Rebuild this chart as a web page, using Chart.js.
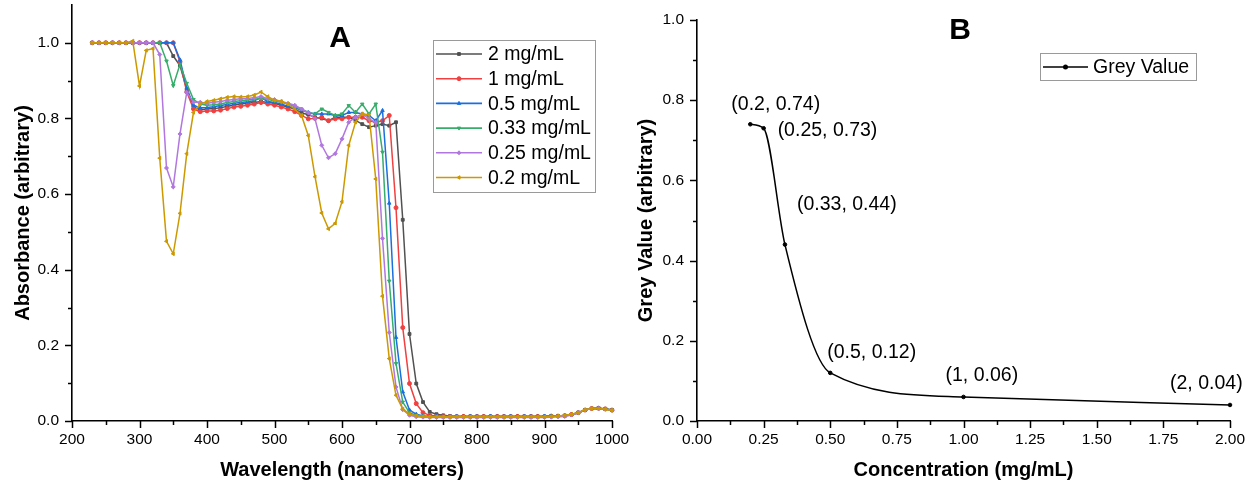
<!DOCTYPE html>
<html>
<head>
<meta charset="utf-8">
<title>Absorbance spectra and grey value</title>
<script src="https://cdn.jsdelivr.net/npm/chart.js@4.4.1/dist/chart.umd.min.js"></script>
<style>
  html, body { margin: 0; padding: 0; background: #fff; overflow: hidden; }
  body { width: 1250px; height: 483px; position: relative; }
  canvas { position: absolute; top: 0; }
  #chartA { left: 0; }
  #chartB { left: 630px; }
</style>
</head>
<body>
<canvas id="chartA" width="640" height="483"></canvas>
<canvas id="chartB" width="620" height="483"></canvas>
<script>
// ---- panel A: absorbance scans, 230-1000 nm in 10 nm steps ----
var wavelengths = [
  230, 240, 250, 260, 270, 280, 290, 300, 310, 320,
  330, 340, 350, 360, 370, 380, 390, 400, 410, 420,
  430, 440, 450, 460, 470, 480, 490, 500, 510, 520,
  530, 540, 550, 560, 570, 580, 590, 600, 610, 620,
  630, 640, 650, 660, 670, 680, 690, 700, 710, 720,
  730, 740, 750, 760, 770, 780, 790, 800, 810, 820,
  830, 840, 850, 860, 870, 880, 890, 900, 910, 920,
  930, 940, 950, 960, 970, 980, 990, 1000
];

var abs2 = [
  1.0, 1.0, 1.0, 1.0, 1.0, 1.0, 1.0, 1.0, 1.0, 1.0,
  1.0, 1.0, 0.965, 0.94, 0.877, 0.83, 0.823, 0.825, 0.826, 0.828,
  0.832, 0.835, 0.838, 0.84, 0.842, 0.845, 0.842, 0.84, 0.835, 0.83,
  0.825, 0.815, 0.81, 0.803, 0.8, 0.794, 0.803, 0.803, 0.803, 0.795,
  0.785, 0.777, 0.781, 0.785, 0.781, 0.79, 0.532, 0.23, 0.099, 0.05,
  0.024, 0.018, 0.015, 0.013, 0.012, 0.012, 0.012, 0.012, 0.012, 0.012,
  0.012, 0.012, 0.012, 0.012, 0.012, 0.012, 0.012, 0.012, 0.013, 0.013,
  0.014, 0.017, 0.022, 0.029, 0.033, 0.034, 0.032, 0.029
];
var abs1 = [
  1.0, 1.0, 1.0, 1.0, 1.0, 1.0, 1.0, 1.0, 1.0, 1.0,
  1.0, 1.0, 1.0, 0.95, 0.87, 0.825, 0.818, 0.82, 0.82, 0.822,
  0.826, 0.83, 0.832, 0.835, 0.838, 0.842, 0.838, 0.835, 0.83, 0.825,
  0.818, 0.808, 0.799, 0.8, 0.803, 0.794, 0.799, 0.799, 0.803, 0.803,
  0.803, 0.794, 0.79, 0.794, 0.808, 0.564, 0.247, 0.099, 0.046, 0.022,
  0.015, 0.013, 0.012, 0.012, 0.012, 0.012, 0.012, 0.012, 0.012, 0.012,
  0.012, 0.012, 0.012, 0.012, 0.012, 0.012, 0.012, 0.012, 0.013, 0.013,
  0.014, 0.017, 0.022, 0.029, 0.033, 0.034, 0.032, 0.029
];
var abs05 = [
  1.0, 1.0, 1.0, 1.0, 1.0, 1.0, 1.0, 1.0, 1.0, 1.0,
  1.0, 1.0, 1.0, 0.955, 0.88, 0.835, 0.828, 0.829, 0.831, 0.834,
  0.837, 0.84, 0.842, 0.844, 0.847, 0.855, 0.845, 0.842, 0.838, 0.832,
  0.828, 0.822, 0.816, 0.812, 0.812, 0.812, 0.808, 0.808, 0.816, 0.816,
  0.812, 0.808, 0.794, 0.821, 0.576, 0.221, 0.077, 0.029, 0.018, 0.013,
  0.012, 0.012, 0.012, 0.012, 0.012, 0.012, 0.012, 0.012, 0.012, 0.012,
  0.012, 0.012, 0.012, 0.012, 0.012, 0.012, 0.012, 0.012, 0.013, 0.013,
  0.014, 0.017, 0.022, 0.029, 0.033, 0.034, 0.032, 0.029
];
var abs033 = [
  1.0, 1.0, 1.0, 1.0, 1.0, 1.0, 1.0, 1.0, 1.0, 1.0,
  1.0, 0.952, 0.887, 0.943, 0.893, 0.85, 0.838, 0.835, 0.836, 0.838,
  0.842, 0.845, 0.847, 0.849, 0.851, 0.853, 0.85, 0.847, 0.843, 0.838,
  0.832, 0.825, 0.816, 0.812, 0.825, 0.816, 0.808, 0.812, 0.834, 0.816,
  0.838, 0.812, 0.838, 0.711, 0.37, 0.152, 0.05, 0.022, 0.015, 0.013,
  0.012, 0.012, 0.012, 0.012, 0.012, 0.012, 0.012, 0.012, 0.012, 0.012,
  0.012, 0.012, 0.012, 0.012, 0.012, 0.012, 0.012, 0.012, 0.013, 0.013,
  0.014, 0.017, 0.022, 0.029, 0.033, 0.034, 0.032, 0.029
];
var abs025 = [
  1.0, 1.0, 1.0, 1.0, 1.0, 1.0, 1.0, 1.0, 1.0, 1.0,
  0.969, 0.669, 0.619, 0.759, 0.869, 0.843, 0.843, 0.84, 0.843, 0.845,
  0.848, 0.85, 0.852, 0.853, 0.855, 0.858, 0.852, 0.85, 0.845, 0.84,
  0.835, 0.825, 0.815, 0.799, 0.729, 0.696, 0.707, 0.746, 0.79, 0.803,
  0.812, 0.799, 0.79, 0.483, 0.234, 0.09, 0.03, 0.015, 0.011, 0.01,
  0.009, 0.009, 0.009, 0.009, 0.009, 0.009, 0.009, 0.009, 0.009, 0.009,
  0.009, 0.009, 0.009, 0.009, 0.009, 0.009, 0.009, 0.009, 0.01, 0.011,
  0.012, 0.016, 0.022, 0.029, 0.033, 0.033, 0.031, 0.028
];
var abs02 = [
  1.0, 1.0, 1.0, 1.0, 1.0, 1.0, 1.005, 0.886, 0.98, 0.985,
  0.695, 0.475, 0.442, 0.549, 0.707, 0.816, 0.838, 0.845, 0.848, 0.852,
  0.856, 0.858, 0.857, 0.858, 0.862, 0.87, 0.858, 0.848, 0.845, 0.838,
  0.825, 0.808, 0.755, 0.646, 0.55, 0.508, 0.523, 0.58, 0.729, 0.79,
  0.812, 0.81, 0.64, 0.33, 0.165, 0.068, 0.032, 0.018, 0.014, 0.012,
  0.011, 0.011, 0.011, 0.011, 0.011, 0.011, 0.011, 0.011, 0.011, 0.011,
  0.011, 0.011, 0.011, 0.011, 0.011, 0.011, 0.011, 0.011, 0.012, 0.013,
  0.015, 0.018, 0.022, 0.03, 0.033, 0.033, 0.031, 0.028
];

var seriesNames = ['2 mg/mL', '1 mg/mL', '0.5 mg/mL', '0.33 mg/mL', '0.25 mg/mL', '0.2 mg/mL'];
var waveTicks = [200, 300, 400, 500, 600, 700, 800, 900, 1000];
var absTicks = [0, 0.2, 0.4, 0.6, 0.8, 1.0];

// ---- panel B: grey value against concentration ----
var concentrations = [0.2, 0.25, 0.33, 0.5, 1, 2];
var greyValues = [0.74, 0.73, 0.44, 0.12, 0.06, 0.04];
var concTicks = [0, 0.25, 0.5, 0.75, 1, 1.25, 1.5, 1.75, 2];
var greyTicks = [0, 0.2, 0.4, 0.6, 0.8, 1.0];

var FONT = '"Liberation Sans", Arial, Helvetica, sans-serif';
Chart.defaults.font.family = FONT;
Chart.defaults.color = '#000';

var colors = ['#515151', '#F14040', '#1A6FDF', '#37AD6B', '#B177DE', '#CC9900'];
var symbols = [
  { style: 'rect', rot: 0 },
  { style: 'circle', rot: 0 },
  { style: 'triangle', rot: 0 },
  { style: 'triangle', rot: 180 },
  { style: 'rectRot', rot: 0 },
  { style: 'triangle', rot: -90 }
];

function pairUp(xs, ys) {
  return xs.map(function (x, i) { return { x: x, y: ys[i] }; });
}

function midpoints(list) {
  var out = [];
  for (var i = 0; i < list.length - 1; i++) out.push((list[i] + list[i + 1]) / 2);
  return out;
}

// outward major/minor tick marks in the Origin style
var tickMarks = {
  id: 'tickMarks',
  afterDraw: function (chart, args, opts) {
    var ctx = chart.ctx;
    var xs = chart.scales.x, ys = chart.scales.y;
    ctx.save();
    ctx.strokeStyle = '#000';
    ctx.lineWidth = 1.5;
    [[opts.xMajor, 7], [midpoints(opts.xMajor), 4]].forEach(function (set) {
      set[0].forEach(function (v) {
        var p = Math.round(xs.getPixelForValue(v)) + 0.5;
        ctx.beginPath();
        ctx.moveTo(p, xs.top);
        ctx.lineTo(p, xs.top + set[1]);
        ctx.stroke();
      });
    });
    [[opts.yMajor, 7], [midpoints(opts.yMajor), 4]].forEach(function (set) {
      set[0].forEach(function (v) {
        var p = Math.round(ys.getPixelForValue(v)) + 0.5;
        ctx.beginPath();
        ctx.moveTo(ys.right, p);
        ctx.lineTo(ys.right - set[1], p);
        ctx.stroke();
      });
    });
    ctx.restore();
  }
};

function markerOpts(ds, r) {
  return { pointStyle: ds.pointStyle, rotation: ds.rotation || 0, radius: r, borderWidth: 1 };
}

// legend box and panel letter for the spectra
var legendA = {
  id: 'legendA',
  afterDraw: function (chart) {
    var ctx = chart.ctx;
    ctx.save();
    ctx.fillStyle = '#fff';
    ctx.fillRect(433, 40, 163, 152);
    ctx.strokeStyle = '#9a9a9a';
    ctx.lineWidth = 1;
    ctx.strokeRect(433.5, 40.5, 162, 152);
    ctx.font = '19.5px ' + FONT;
    ctx.textBaseline = 'middle';
    ctx.textAlign = 'left';
    chart.data.datasets.forEach(function (ds, i) {
      var y = 54 + i * 24.7;
      ctx.strokeStyle = ds.borderColor;
      ctx.fillStyle = ds.borderColor;
      ctx.lineWidth = 1.6;
      ctx.beginPath();
      ctx.moveTo(436, y);
      ctx.lineTo(482, y);
      ctx.stroke();
      ctx.lineWidth = 1;
      Chart.helpers.drawPoint(ctx, markerOpts(ds, 2), 459, y);
      ctx.fillStyle = '#000';
      ctx.fillText(ds.label, 488, y + 1);
    });
    ctx.font = 'bold 30px ' + FONT;
    ctx.textAlign = 'center';
    ctx.fillText('A', 340, 39);
    ctx.restore();
  }
};

// text offsets (left edge, vertical centre) of each point label, in px from its marker
var labelOffsets = [[-19, -20], [14, 2], [12, -40], [-3, -20], [-18, -21], [-60, -21]];

var legendB = {
  id: 'legendB',
  afterDraw: function (chart) {
    var ctx = chart.ctx;
    var xs = chart.scales.x, ys = chart.scales.y;
    ctx.save();
    ctx.font = '19.5px ' + FONT;
    ctx.textBaseline = 'middle';
    ctx.textAlign = 'left';
    ctx.fillStyle = '#000';
    concentrations.forEach(function (c, i) {
      var px = xs.getPixelForValue(c), py = ys.getPixelForValue(greyValues[i]);
      var text = '(' + c + ', ' + greyValues[i].toFixed(2) + ')';
      ctx.fillText(text, px + labelOffsets[i][0], py + labelOffsets[i][1]);
    });

    ctx.strokeStyle = '#9a9a9a';
    ctx.lineWidth = 1;
    ctx.strokeRect(410.5, 53.5, 156, 27);
    var ds = chart.data.datasets[0];
    ctx.strokeStyle = '#000';
    ctx.lineWidth = 1.4;
    ctx.beginPath();
    ctx.moveTo(413, 67);
    ctx.lineTo(458, 67);
    ctx.stroke();
    ctx.fillStyle = '#000';
    Chart.helpers.drawPoint(ctx, markerOpts(ds, 1.8), 435.5, 67);
    ctx.fillText(ds.label, 463, 67.5);

    ctx.font = 'bold 30px ' + FONT;
    ctx.textAlign = 'center';
    ctx.fillText('B', 330, 31);
    ctx.restore();
  }
};

function axisOpts(min, max, ticks, fmt, title, titlePad, side) {
  return {
    type: 'linear',
    min: min,
    max: max,
    grid: { display: false, drawTicks: false },
    border: { display: true, color: '#000', width: 1.6 },
    ticks: {
      color: '#000',
      font: { size: 15.5 },
      padding: side === 'x' ? 9 : 13,
      maxRotation: 0,
      callback: fmt
    },
    title: {
      display: true,
      text: title,
      color: '#000',
      font: { size: 20, weight: 'bold' },
      padding: titlePad
    },
    afterBuildTicks: function (scale) {
      scale.ticks = ticks.map(function (v) { return { value: v }; });
    }
  };
}

// ---- chart A ----
var datasetsA = [abs2, abs1, abs05, abs033, abs025, abs02].map(function (vals, i) {
  return {
    label: seriesNames[i],
    data: pairUp(wavelengths, vals),
    borderColor: colors[i],
    backgroundColor: colors[i],
    borderWidth: 1.5,
    pointStyle: symbols[i].style,
    rotation: symbols[i].rot,
    pointRadius: 2,
    pointBorderWidth: 1,
    tension: 0,
    fill: false,
    clip: false,
    order: 6 - i
  };
});

var xA = axisOpts(200, 1000, waveTicks, function (v) { return String(v); },
  'Wavelength (nanometers)', { top: 0, bottom: 1 }, 'x');
xA.afterFit = function (scale) { scale.height = 62; scale.paddingLeft = 0; scale.paddingRight = 0; };
var yA = axisOpts(0, 1.1, absTicks, function (v) { return v.toFixed(1); },
  'Absorbance (arbitrary)', { top: 11, bottom: 0 }, 'y');
yA.afterFit = function (scale) { scale.width = 72; scale.paddingTop = 0; scale.paddingBottom = 0; };

new Chart(document.getElementById('chartA'), {
  type: 'line',
  data: { datasets: datasetsA },
  options: {
    responsive: false,
    animation: false,
    devicePixelRatio: 1,
    events: [],
    layout: { padding: { left: 0, right: 28, top: 2, bottom: 0 } },
    scales: { x: xA, y: yA },
    plugins: {
      legend: { display: false },
      tooltip: { enabled: false },
      tickMarks: { xMajor: waveTicks, yMajor: absTicks }
    }
  },
  plugins: [tickMarks, legendA]
});

// ---- chart B ----
var xB = axisOpts(0, 2, concTicks, function (v) { return v.toFixed(2); },
  'Concentration (mg/mL)', { top: 0, bottom: 1 }, 'x');
xB.afterFit = function (scale) { scale.height = 62; scale.paddingLeft = 0; scale.paddingRight = 0; };
var yB = axisOpts(0, 1, greyTicks, function (v) { return v.toFixed(1); },
  'Grey Value (arbitrary)', { top: 4, bottom: 0 }, 'y');
yB.afterFit = function (scale) { scale.width = 67; scale.paddingTop = 0; scale.paddingBottom = 0; };

new Chart(document.getElementById('chartB'), {
  type: 'line',
  data: {
    datasets: [{
      label: 'Grey Value',
      data: pairUp(concentrations, greyValues),
      borderColor: '#000',
      backgroundColor: '#000',
      borderWidth: 1.5,
      pointStyle: 'circle',
      pointRadius: 1.8,
      pointBorderWidth: 1,
      cubicInterpolationMode: 'monotone',
      fill: false,
      clip: false
    }]
  },
  options: {
    responsive: false,
    animation: false,
    devicePixelRatio: 1,
    events: [],
    layout: { padding: { left: 0, right: 20, top: 20, bottom: 0 } },
    scales: { x: xB, y: yB },
    plugins: {
      legend: { display: false },
      tooltip: { enabled: false },
      tickMarks: { xMajor: concTicks, yMajor: greyTicks }
    }
  },
  plugins: [tickMarks, legendB]
});
</script>
</body>
</html>
